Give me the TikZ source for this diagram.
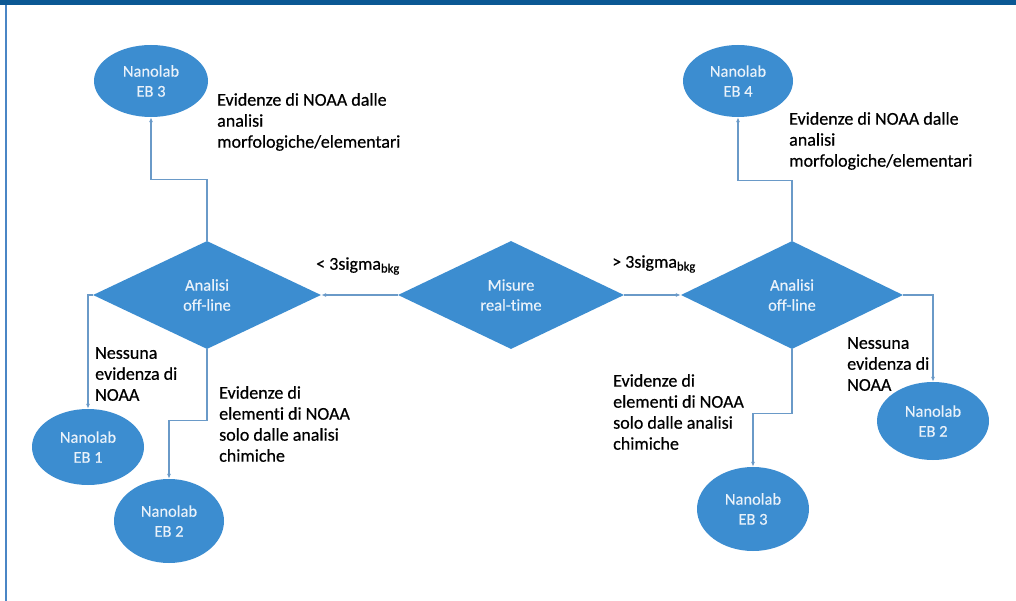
\documentclass[tikz,border=0pt]{standalone}
\usepackage{fontspec}
\setmainfont{Carlito}[Ligatures=CommonOff]
\newfontfamily\lblfont{Carlito}[Ligatures=CommonOff, FakeBold=0.5]
\newfontfamily\nanofont{Carlito}[Ligatures=CommonOff, FakeBold=0.3]
\usetikzlibrary{shapes.geometric,arrows.meta}
\definecolor{fillblue}{HTML}{3C8DD0}
\definecolor{lineblue}{HTML}{6A9AC8}
\definecolor{barblue}{HTML}{0B5894}
\definecolor{borderblue}{HTML}{4A86C5}
\definecolor{nanotext}{HTML}{EAF2FA}
\begin{document}
\begin{tikzpicture}[x=1pt,y=-1pt,
  nano/.style={ellipse, fill=fillblue, text=nanotext, inner sep=0pt, align=center,
    font=\nanofont\fontsize{16.5}{20}\selectfont},
  decision/.style={diamond, fill=fillblue, text=nanotext, inner sep=0pt, align=center,
    font=\nanofont\fontsize{16.5}{20}\selectfont},
  lbl/.style={anchor=north west, inner sep=0pt, align=left, text=black,
    font=\lblfont\fontsize{18}{21}\selectfont},
  edgelbl/.style={inner sep=0pt, text=black, font=\lblfont\fontsize{18}{21}\selectfont},
  conn/.style={draw=lineblue, line width=1.1pt, -{Latex[length=5pt,width=4pt]}}]
\useasboundingbox (0,0) rectangle (1016,601);
\fill[white] (0,0) rectangle (1016,601);
\fill[barblue] (0,0) rectangle (1016,5);
\fill[borderblue] (5,5) rectangle (7,601);

% decisions
\node[decision, minimum width=228pt, minimum height=108pt] (AL) at (207,295) {Analisi\\off-line};
\node[decision, minimum width=226pt, minimum height=108pt] (M) at (511,295) {Misure\\real-time};
\node[decision, minimum width=222pt, minimum height=108pt] (AR) at (792,295) {Analisi\\off-line};

% ellipses
\node[nano, minimum width=114pt, minimum height=72pt] (EB3L) at (151,81) {Nanolab\\EB 3};
\node[nano, minimum width=110pt, minimum height=72pt] (EB4) at (738,81) {Nanolab\\EB 4};
\node[nano, minimum width=112pt, minimum height=76pt] (EB1) at (88,447) {Nanolab\\EB 1};
\node[nano, minimum width=110pt, minimum height=84pt] (EB2L) at (169,521) {Nanolab\\EB 2};
\node[nano, minimum width=112pt, minimum height=84pt] (EB3R) at (753,509) {Nanolab\\EB 3};
\node[nano, minimum width=112pt, minimum height=78pt] (EB2R) at (933,421) {Nanolab\\EB 2};

% connectors
\draw[conn] (M.west) -- (AL.east);
\draw[conn] (M.east) -- (AR.west);
\draw[conn] (AL.north) -- ++(0,-61) -| (EB3L.south);
\draw[conn] (AR.north) -- ++(0,-60) -| (EB4.south);
\draw[conn] (AL.west) -| (EB1.north);
\draw[conn] (AL.south) -- ++(0,71) -| (EB2L.north);
\draw[conn] (AR.south) -- ++(0,64) -| (EB3R.north);
\draw[conn] (AR.east) -| (EB2R.north);

% edge labels
\node[edgelbl] (lt) at (358,266) {< 3sigma\textsubscript{bkg}};
\node[edgelbl] (gt) at (654,264) {> 3sigma\textsubscript{bkg}};

% text blocks
\node[lbl] (t1) at (217,93) {Evidenze di NOAA dalle\\analisi\\morfologiche/elementari};
\node[lbl] (t2) at (789,112) {Evidenze di NOAA dalle\\analisi\\morfologiche/elementari};
\node[lbl] (t3) at (95,347) {Nessuna\\evidenza di\\NOAA};
\node[lbl] (t4) at (219,386) {Evidenze di\\elementi di NOAA\\solo dalle analisi\\chimiche};
\node[lbl] (t5) at (613,374) {Evidenze di\\elementi di NOAA\\solo dalle analisi\\chimiche};
\node[lbl] (t6) at (847,337) {Nessuna\\evidenza di\\NOAA};
\end{tikzpicture}
\end{document}
